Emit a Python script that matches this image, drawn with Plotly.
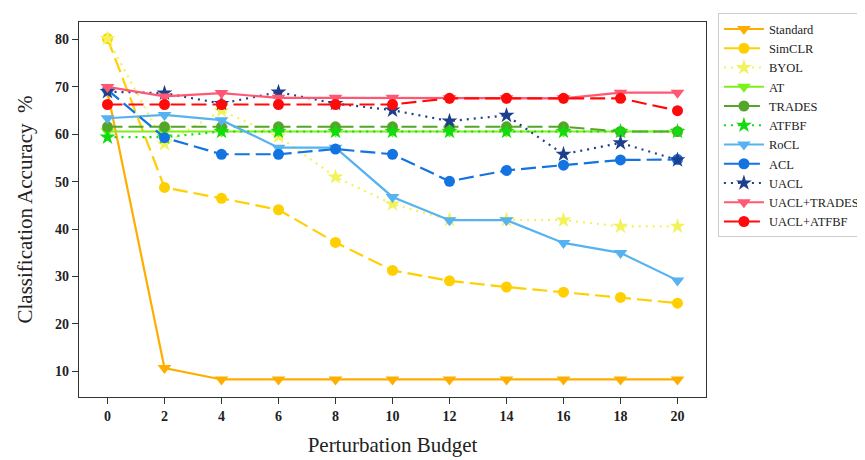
import plotly.graph_objects as go

budgets = [0, 2, 4, 6, 8, 10, 12, 14, 16, 18, 20]

standard = [69.0, 10.7, 8.3, 8.3, 8.3, 8.3, 8.3, 8.3, 8.3, 8.3, 8.3]
simclr = [80.2, 48.8, 46.5, 44.1, 37.2, 31.3, 29.1, 27.8, 26.7, 25.6, 24.4]
byol = [80.2, 58.0, 65.0, 59.6, 51.0, 45.3, 42.0, 42.0, 41.9, 40.6, 40.6]
at = [60.6, 60.6, 60.6, 60.6, 60.6, 60.6, 60.6, 60.6, 60.6, 60.6, 60.6]
trades = [61.6, 61.6, 61.6, 61.6, 61.6, 61.6, 61.6, 61.6, 61.6, 60.6, 60.6]
atfbf = [59.4, 59.4, 60.6, 60.6, 60.6, 60.6, 60.6, 60.6, 60.6, 60.6, 60.6]
rocl = [63.4, 64.1, 63.0, 57.2, 57.2, 46.8, 41.9, 41.9, 37.1, 35.0, 29.2]
acl = [69.4, 59.3, 55.8, 55.8, 56.9, 55.8, 50.1, 52.4, 53.5, 54.6, 54.7]
uacl = [69.0, 68.7, 66.5, 68.9, 66.5, 65.1, 62.8, 64.0, 55.8, 58.2, 54.6]
uacl_trades = [70.0, 68.0, 68.7, 67.7, 67.7, 67.7, 67.6, 67.6, 67.6, 68.8, 68.8]
uacl_atfbf = [66.3, 66.3, 66.3, 66.3, 66.3, 66.3, 67.6, 67.6, 67.6, 67.6, 65.0]

x_ticks = [0, 2, 4, 6, 8, 10, 12, 14, 16, 18, 20]
y_ticks = [10, 20, 30, 40, 50, 60, 70, 80]

series = [
    ("Standard", standard, "#FFAE00", "solid", "triangle-down"),
    ("SimCLR", simclr, "#FFCF00", "15px,6px", "circle"),
    ("BYOL", byol, "#F2F25A", "2px,5px", "star"),
    ("AT", at, "#7CF01A", "solid", "triangle-down"),
    ("TRADES", trades, "#55A52A", "15px,6px", "circle"),
    ("ATFBF", atfbf, "#10DC10", "2px,5px", "star"),
    ("RoCL", rocl, "#56B2F0", "solid", "triangle-down"),
    ("ACL", acl, "#1373E0", "15px,6px", "circle"),
    ("UACL", uacl, "#1E3F8C", "2px,5px", "star"),
    ("UACL+TRADES", uacl_trades, "#FF5872", "solid", "triangle-down"),
    ("UACL+ATFBF", uacl_atfbf, "#FF0A0A", "15px,6px", "circle"),
]

fig = go.Figure()
for name, vals, color, dash, sym in series:
    size = 11 if sym == "circle" else 12
    fig.add_trace(go.Scatter(
        x=budgets, y=vals, name=name, mode="lines+markers",
        line=dict(color=color, width=2.2, dash=dash),
        marker=dict(symbol=sym, size=size, color=color, line=dict(width=0)),
    ))

serif = "Liberation Serif, Times New Roman, serif"
fig.update_layout(
    width=865, height=460,
    margin=dict(l=71, r=167, t=5, b=71),
    paper_bgcolor="white", plot_bgcolor="white",
    font=dict(family=serif, color="#111"),
    showlegend=True,
    legend=dict(
        x=1.019, y=1.023, xanchor="left", yanchor="top",
        bgcolor="white", bordercolor="#cccccc", borderwidth=1,
        font=dict(family=serif, size=12.5, color="#222"),
        itemwidth=40, tracegroupgap=0,
    ),
    xaxis=dict(
        range=[-1, 21], tickvals=x_ticks, ticktext=[f"<b>{v}</b>" for v in x_ticks],
        showgrid=False, zeroline=False, showline=True, linecolor="#333", linewidth=1.2,
        mirror=True, ticks="outside", ticklen=6, tickcolor="#333", automargin=False,
        tickfont=dict(family=serif, size=14, color="#222"),
        title=dict(text="Perturbation Budget", font=dict(family=serif, size=21, color="#222"), standoff=14),
    ),
    yaxis=dict(
        range=[4.6, 83.7], tickvals=y_ticks, ticktext=[f"<b>{v}</b>" for v in y_ticks],
        showgrid=False, zeroline=False, showline=True, linecolor="#333", linewidth=1.2,
        mirror=True, ticks="outside", ticklen=6, tickcolor="#333", automargin=False,
        tickfont=dict(family=serif, size=14, color="#222"),
        title=dict(text="Classification Accuracy\u00a0\u00a0%", font=dict(family=serif, size=21, color="#222"), standoff=16),
    ),
)

fig.write_html("out.html")
